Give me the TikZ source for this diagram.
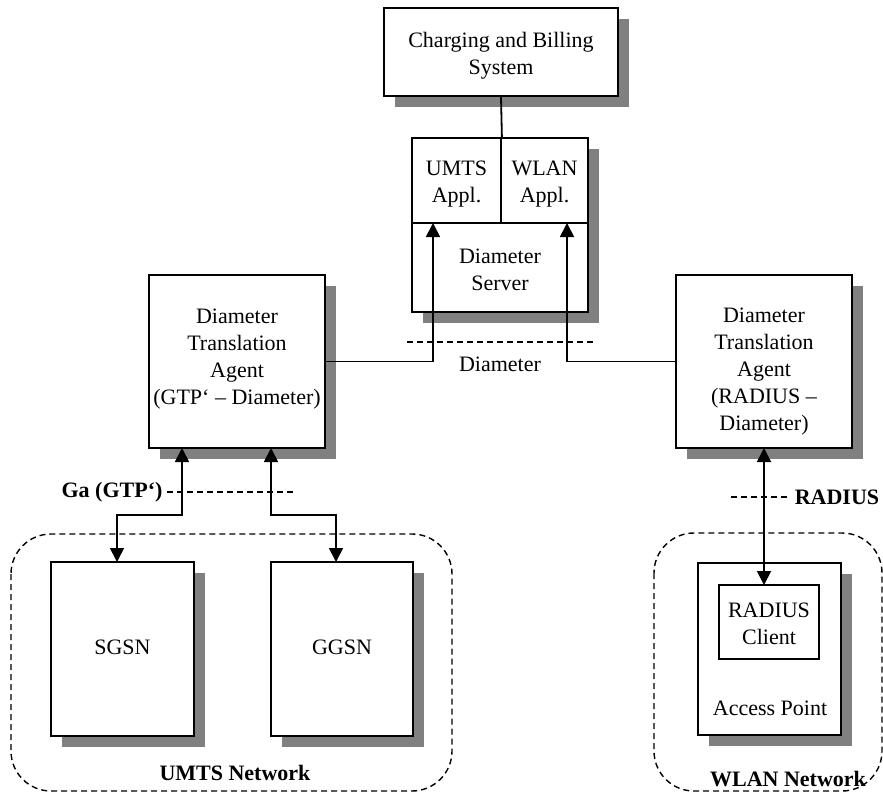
\documentclass[tikz,border=0pt]{standalone}
\usepackage{fontspec}
\setmainfont{Liberation Serif}
\usetikzlibrary{shadows,arrows.meta}
\definecolor{shadowgray}{HTML}{808080}
\begin{document}
\begin{tikzpicture}[x=1pt,y=-1pt,
  txt/.style={font=\fontsize{22}{27}\selectfont, align=center, inner sep=0pt},
  lbl/.style={font=\fontsize{22}{27}\selectfont\bfseries, inner sep=0pt},
  unit/.style={draw, line width=1.8pt, fill=white, inner sep=0pt,
    drop shadow={shadow xshift=11pt, shadow yshift=-11pt, fill=shadowgray, opacity=1}},
  cell/.style={draw, line width=1.8pt, inner sep=0pt},
  wire/.style={line width=1.8pt},
  arr/.style={line width=1.8pt, -{Triangle[width=14pt,length=14pt]}},
  biarr/.style={line width=1.8pt, {Triangle[width=14pt,length=14pt]}-{Triangle[width=14pt,length=14pt]}},
  iface/.style={line width=1.4pt, dash pattern=on 6pt off 4pt},
  netzone/.style={draw, line width=1.4pt, dash pattern=on 6pt off 4pt, rounded corners=40pt}
]
\useasboundingbox (0,0) rectangle (883,792);

% network domains
\draw[netzone] (11,534) rectangle (452,791);
\draw[netzone] (654,533) rectangle (882,791);
\node[lbl] (umtsnet) at (235,773) {UMTS Network};
\node[lbl] (wlannet) at (788,779) {WLAN Network};

% charging and billing system
\node[unit, minimum width=234pt, minimum height=88pt] (charge) at (501,52) {};
\node[txt] (chargetxt) at (501,56) {Charging and Billing\\System};

% diameter server with its two applications
\node[unit, minimum width=176pt, minimum height=174pt] (server) at (500,225) {};
\node[cell, minimum width=89pt, minimum height=85pt] (umtscell) at (456.5,180.5) {};
\node[cell, minimum width=87pt, minimum height=85pt] (wlancell) at (544.5,180.5) {};
\node[txt] (umtstxt) at (456.5,184) {UMTS\\Appl.};
\node[txt] (wlantxt) at (544.5,184) {WLAN\\Appl.};
\node[txt] (servertxt) at (500,270) {Diameter\\Server};
\draw[wire] (charge.south) -- (umtscell.north east);

% translation agents
\node[unit, minimum width=176pt, minimum height=173pt] (dtal) at (237,361.5) {};
\node[txt] (dtaltxt) at (237,359) {Diameter\\Translation\\Agent\\(GTP‘ – Diameter)};
\node[unit, minimum width=176pt, minimum height=173pt] (dtar) at (764,361.5) {};
\node[txt] (dtartxt) at (764,372) {Diameter\\Translation\\Agent\\(RADIUS –\\Diameter)};

% UMTS nodes
\node[unit, minimum width=143pt, minimum height=174pt] (sgsn) at (122.5,649) {};
\node[txt] (sgsntxt) at (122.5,647) {SGSN};
\node[unit, minimum width=142pt, minimum height=174pt] (ggsn) at (342,649) {};
\node[txt] (ggsntxt) at (342,647) {GGSN};

% WLAN access point
\node[unit, minimum width=143pt, minimum height=172pt] (ap) at (769.5,649) {};
\node[cell, fill=white, minimum width=100pt, minimum height=74pt] (client) at (769,622) {};
\node[txt] (clienttxt) at (769,624) {RADIUS\\Client};
\node[txt] (aptxt) at (770,708) {Access Point};

% connection points
\coordinate (umtsin) at (433,223);
\coordinate (wlanin) at (567,223);
\coordinate (gaa) at (182,448);
\coordinate (gab) at (271,448);
\coordinate (sgsnin) at (117,562);
\coordinate (ggsnin) at (336,562);
\coordinate (radtop) at (764,448);
\coordinate (radbot) at (764,585);

% Diameter reference point
\draw[iface] (407,342) -- (595,342);
\node[txt] (diamlbl) at (500,364) {Diameter};
\draw[arr] (dtal.east) -| (umtsin);
\draw[arr] (dtar.west) -| (wlanin);

% Ga reference point
\draw[iface] (167,492) -- (293,492);
\node[lbl] (galbl) at (112,492) {Ga (GTP‘)};
\draw[biarr] (gaa) -- (182,515) -| (sgsnin);
\draw[biarr] (gab) -- (271,515) -| (ggsnin);

% RADIUS reference point
\draw[iface] (731,497) -- (787,497);
\node[lbl] (radlbl) at (837,497) {RADIUS};
\draw[biarr] (radtop) -- (radbot);
\end{tikzpicture}
\end{document}
